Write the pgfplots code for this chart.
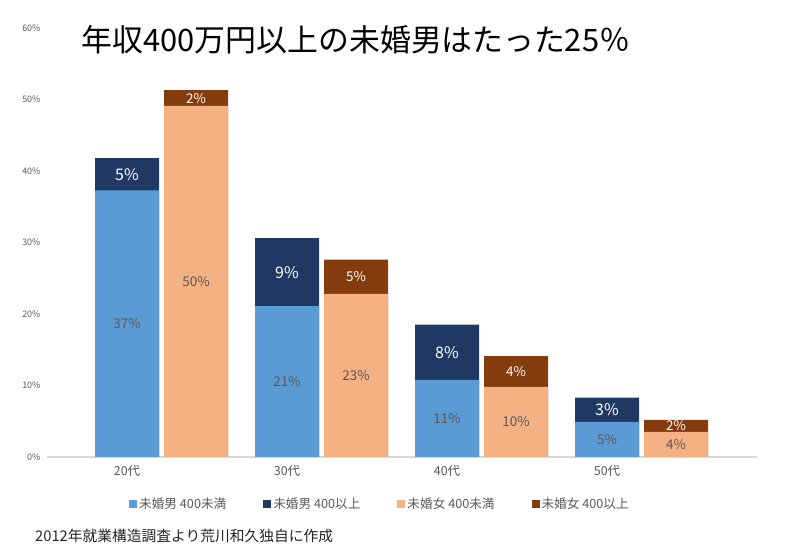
\documentclass[border=0pt]{standalone}
\usepackage{fontspec}
\setmainfont{Noto Sans CJK JP}
\usepackage{pgfplots}
\pgfplotsset{compat=1.18}
\definecolor{mblue}{HTML}{5B9BD5}
\definecolor{mnavy}{HTML}{203864}
\definecolor{fpeach}{HTML}{F4B183}
\definecolor{fbrown}{HTML}{843C0C}
\definecolor{txtgray}{HTML}{595959}
\definecolor{axgray}{HTML}{D9D9D9}
\begin{document}
\begin{tikzpicture}
\useasboundingbox (0,0) rectangle (792bp,551bp);
\begin{axis}[
  at={(47bp,94bp)}, anchor=south west,
  scale only axis, width=710bp, height=429bp,
  xmin=-0.5, xmax=3.9375, ymin=0, ymax=60,
  axis x line=bottom, axis y line=left,
  x axis line style={draw=axgray, line width=1.3pt, -},
  y axis line style={draw=none},
  major tick length=0pt, tick style={draw=none},
  ytick={0,10,...,60},
  yticklabel={\pgfmathprintnumber{\tick}\%},
  /pgf/number format/assume math mode=true,
  yticklabel style={font=\fontsize{9}{10}\selectfont, text=txtgray, xshift=-3bp},
  xtick={0,1,2,3}, xticklabels={20代,30代,40代,50代},
  xticklabel style={font=\fontsize{12.5}{14}\selectfont, text=txtgray, yshift=-5bp},
  title={年収400万円以上の未婚男はたった25％},
  title style={at={(axis description cs:0.435,0.958)}, anchor=center, font=\fontsize{31}{34}\selectfont, text=black},
  legend columns=4,
  legend style={at={(axis description cs:0.469,-0.11)}, anchor=center, draw=none, fill=none,
    font=\fontsize{12.7}{14}\selectfont, text=txtgray,
    /tikz/every even column/.append style={column sep=35bp}},
  legend image code/.code={\fill[#1] (0bp,-4bp) rectangle (8bp,4bp);},
  every node near coord/.append style={anchor=center},
]
\addlegendimage{fill=mblue, draw=none}
\addlegendentry{未婚男 400未満}
\addlegendimage{fill=mnavy, draw=none}
\addlegendentry{未婚男 400以上}
\addlegendimage{fill=fpeach, draw=none}
\addlegendentry{未婚女 400未満}
\addlegendimage{fill=fbrown, draw=none}
\addlegendentry{未婚女 400以上}
% male: totals then lower segment
\addplot[ybar, bar width=0.4, bar shift=0pt, fill=mnavy, draw=none, forget plot]
  coordinates {(0,41.8) (1,30.6) (2,18.5) (3,8.3)};
\addplot[ybar, bar width=0.4, bar shift=0pt, fill=mblue, draw=none, forget plot]
  coordinates {(0,37.3) (1,21.1) (2,10.8) (3,4.9)};
% female: totals then lower segment
\addplot[ybar, bar width=0.4, bar shift=0pt, fill=fbrown, draw=none, forget plot]
  coordinates {(0.43125,51.3) (1.43125,27.6) (2.43125,14.1) (3.43125,5.2)};
\addplot[ybar, bar width=0.4, bar shift=0pt, fill=fpeach, draw=none, forget plot]
  coordinates {(0.43125,49.1) (1.43125,22.8) (2.43125,9.8) (3.43125,3.5)};
% labels
\addplot[draw=none, mark=none, forget plot, nodes near coords, point meta=explicit symbolic,
  every node near coord/.append style={anchor=center, font=\fontsize{13.5}{15}\selectfont, text=txtgray}]
  coordinates {(0,18.65) [37\%] (1,10.55) [21\%] (2,5.4) [11\%] (3,2.45) [5\%]};
\addplot[draw=none, mark=none, forget plot, nodes near coords, point meta=explicit symbolic,
  every node near coord/.append style={anchor=center, font=\fontsize{16}{18}\selectfont, text=white}]
  coordinates {(0,39.55) [5\%] (1,25.85) [9\%] (2,14.65) [8\%] (3,6.6) [3\%]};
\addplot[draw=none, mark=none, forget plot, nodes near coords, point meta=explicit symbolic,
  every node near coord/.append style={anchor=center, font=\fontsize{13.5}{15}\selectfont, text=txtgray}]
  coordinates {(0.43125,24.55) [50\%] (1.43125,11.4) [23\%] (2.43125,4.9) [10\%] (3.43125,1.75) [4\%]};
\addplot[draw=none, mark=none, forget plot, nodes near coords, point meta=explicit symbolic,
  every node near coord/.append style={anchor=center, font=\fontsize{13.5}{15}\selectfont, text=white}]
  coordinates {(0.43125,50.2) [2\%] (1.43125,25.2) [5\%] (2.43125,11.95) [4\%] (3.43125,4.35) [2\%]};
\end{axis}
\node[anchor=west, font=\fontsize{14.8}{16}\selectfont, text=black!85, inner sep=0pt] at (35bp,15bp) {2012年就業構造調査より荒川和久独自に作成};
\end{tikzpicture}
\end{document}
